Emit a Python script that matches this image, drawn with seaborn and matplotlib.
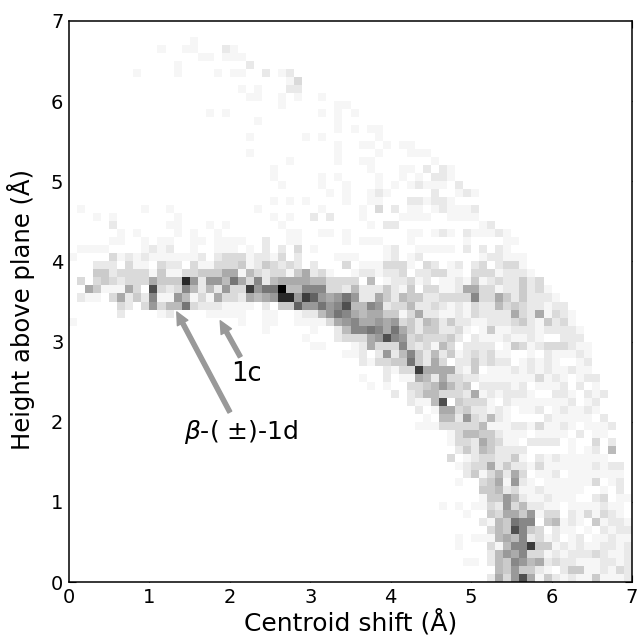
import numpy as np
import pandas as pd
import matplotlib
matplotlib.use('Agg')
import matplotlib.pyplot as plt
from matplotlib.colors import PowerNorm
import seaborn as sns

# 2D histogram, 0.1 A bins, darkness in hex levels 0-f.
# Each row is "first_column:levels" pieces, rows listed from height 7 downwards.
upper_rows = [
    "", "",
    "15:1",
    "11:1 14:11 19:21",
    "16:11 19:111",
    "13:1 22:2",
    "8:1 13:1 18:1 20:11 24:2 26:12",
    "27:13",
    "21:1 23:1 27:22",
    "22:11 26:1 28:1 31:1",
    "26:1 33:11",
    "17:1 19:1 31:1 33:101",
    "23:1 33:1",
    "33:1 35:1 37:11",
    "22:1 29:1 31:1 38:1",
    "33:1 36:11 39:1 41:11",
    "22:1 33:1 38:1 42:111",
    "27:1 33:1 36:11 45:1",
    "25:1 37:1 41:11 44:2 46:21",
    "25:1 31:1 33:1 38:1 41:1 43:1 45:221",
    "26:1 31:1 34:1 38:1 40:1 42:12111 48:2",
    "32:1 34:1 37:121 45:2 48:121",
    "25:1 27:1 29:1 34:1 37:11 42:221221",
    "1:1 9:1 12:1 23:1 31:1 36:1 38:3 40:2 42:11 45:121112",
]

band_rows = [
    "3:1 5:1 13:1 25:1 27:1 30:2 32:2 36:1 41:1111 47:1111",
    "5:2 12:11 17:1 19:1 26:1 37:1 39:22 51:12",
    "6:1 8:1 13:1 15:1 18:1 27:11 31:11 34:1 42:11 45:121 49:211121",
    "5:11 9:1 11:11 15:11 18:1111 24:2 27:11 34:1 36:111 42:1 49:1 54:11",
    "1:1111 9:1212 15:1 18:111 22:1 24:2 26:2 28:3 30:1 39:12 43:11111 49:2 51:2 53:21",
    "0:1 5:312121111112 18:233312213 28:2 33:111 39:12 42:12 51:122111",
    "3:222 7:311 11:322 15:311 18:33341243232 30:2 34:3 36:111 39:3331 44:32 47:12 50:23 53:233 56:1",
    "3:442333314113344466153233146231 35:12212230223311033312221",
    "1:3 3:3432333 10:6444d72775 20:9638256666 30:55333 35:3050122312 45:0112141232 55:2423",
    "2:64111630 10:b323852527 20:33c79 25:9f558 30:8833252224 40:2140331126 50:6331224231",
    "1:211036242 10:8117513163 20:3265 24:67dd7c 30:a767977226 36:2264 40:2544223333 50:8336424222 60:1",
    "6:3203 10:7355932221 20:1110204 27:4a7 30:7978b55872 40:3352232121 50:3225343221 60:22",
    "6:2 11:12 17:111 20:1100110012 30:2579865664 40:4136221121 50:3222263261 60:321",
    "0:1 21:1 24:11 28:111 31:1367 35:86676 40:7342542422 50:1122234214 60:231",
    "24:1 30:1 33:25 35:88986 40:9642442231 50:0141122212 60:2221",
    "29:1 33:23 35:3367b 40:8734333420 50:2111211210 60:0222",
    "30:11 35:12633 40:3832315302 50:2220143123 60:33211",
    "34:11 36:2027 40:2584252412 50:3231100102 60:11121",
    "36:2133 40:4494263022 50:4232201212 60:10012",
    "39:2 40:133c666621 50:4011121212 60:11211",
    "36:1 39:2 40:0116526332 50:2111111131 60:210122",
    "37:1 39:1 42:33457534 50:0222212011 60:120201",
    "40:2 42:23553332 50:6121222100 60:2210212",
]

lower_rows = [
    "42:2115b043 50:3310211111 60:112012",
    "43:2016634 50:2212101120 60:121121",
    "44:105527 50:3252100002 60:1111102",
    "43:1113333 50:3511122131 60:12101112",
    "47:135 50:5442111011 60:1102011",
    "47:133 50:2643110222 60:20100302",
    "48:24 50:2542222000 60:00101205",
    "47:301 50:2332241021 60:2111111",
    "48:12 50:3362422131 60:111112122",
    "49:2 50:4135263011 60:201111111",
    "48:1 51:346172101 60:111113012",
    "51:445231121 60:111100102",
    "51:144752112 60:1110023011",
    "46:1 48:1 50:1132735221 60:101111211",
    "49:1 52:43664713 60:302131321",
    "51:215498804 60:5121041221",
    "52:354b8430 60:2110102122",
    "48:1 50:1115658231 60:2012011211",
    "48:1 52:31588c44 60:1212112212",
    "52:25768331 60:2122232112",
    "49:11025487562 60:3221112212",
    "53:5474421 60:0244112132",
    "52:26 54:37b6 58:14 60:2121141112",
]

x_tick_labels = ['0', '1', '2', '3', '4', '5', '6', '7']
y_tick_labels = ['0', '1', '2', '3', '4', '5', '6', '7']


def build_grid(rows):
    grid = np.zeros((70, 70))
    for r, row in enumerate(rows):
        for piece in row.split():
            start, levels = piece.split(':')
            for i, ch in enumerate(levels):
                grid[r, int(start) + i] = int(ch, 16)
    # bottom row first so the y axis can run upwards
    return grid[::-1]


sns.set_style('white')
plt.rcParams['font.family'] = ['DejaVu Sans']

grid = build_grid(upper_rows + band_rows + lower_rows)
df = pd.DataFrame(grid)

fig = plt.figure(figsize=(6.38, 6.39), dpi=100)
ax = fig.add_axes([69 / 638, 57 / 639, 563 / 638, 561 / 639])

sns.heatmap(df, cmap='gray_r', norm=PowerNorm(1.2, vmin=0, vmax=15), cbar=False, ax=ax,
            xticklabels=False, yticklabels=False)
ax.set_ylim(0, 70)
ax.set_xlim(0, 70)

ax.set_xticks(np.arange(len(x_tick_labels)) * 10)
ax.set_xticklabels(x_tick_labels, rotation=0)
ax.set_yticks(np.arange(len(y_tick_labels)) * 10)
ax.set_yticklabels(y_tick_labels, rotation=0)
ax.tick_params(direction='in', top=True, right=True, bottom=True, left=True,
               length=5, width=0.8, labelsize=14, color='black', labelcolor='black', pad=4)

for spine in ax.spines.values():
    spine.set_visible(True)
    spine.set_color('black')
    spine.set_linewidth(1.1)

ax.set_xlabel('Centroid shift (Å)', fontsize=18, color='black', labelpad=2)
ax.set_ylabel('Height above plane (Å)', fontsize=17.5, color='black')
ax.yaxis.set_label_coords(-0.06, 0.486)

arrow = dict(facecolor='0.6', edgecolor='0.6', width=3, headwidth=8.5, headlength=9, shrink=0)
ax.annotate('', xy=(13.4, 33.7), xytext=(20.0, 21.2), arrowprops=arrow)
ax.annotate('', xy=(18.8, 32.6), xytext=(21.3, 28.1), arrowprops=arrow)
ax.text(22.1, 26.0, '1c', fontsize=18.5, ha='center', va='center', color='black')
ax.text(21.4, 18.7, r'$\beta$-( $\pm$)-1d', fontsize=18, ha='center', va='center', color='black')

fig.savefig('out.png', dpi=100)
